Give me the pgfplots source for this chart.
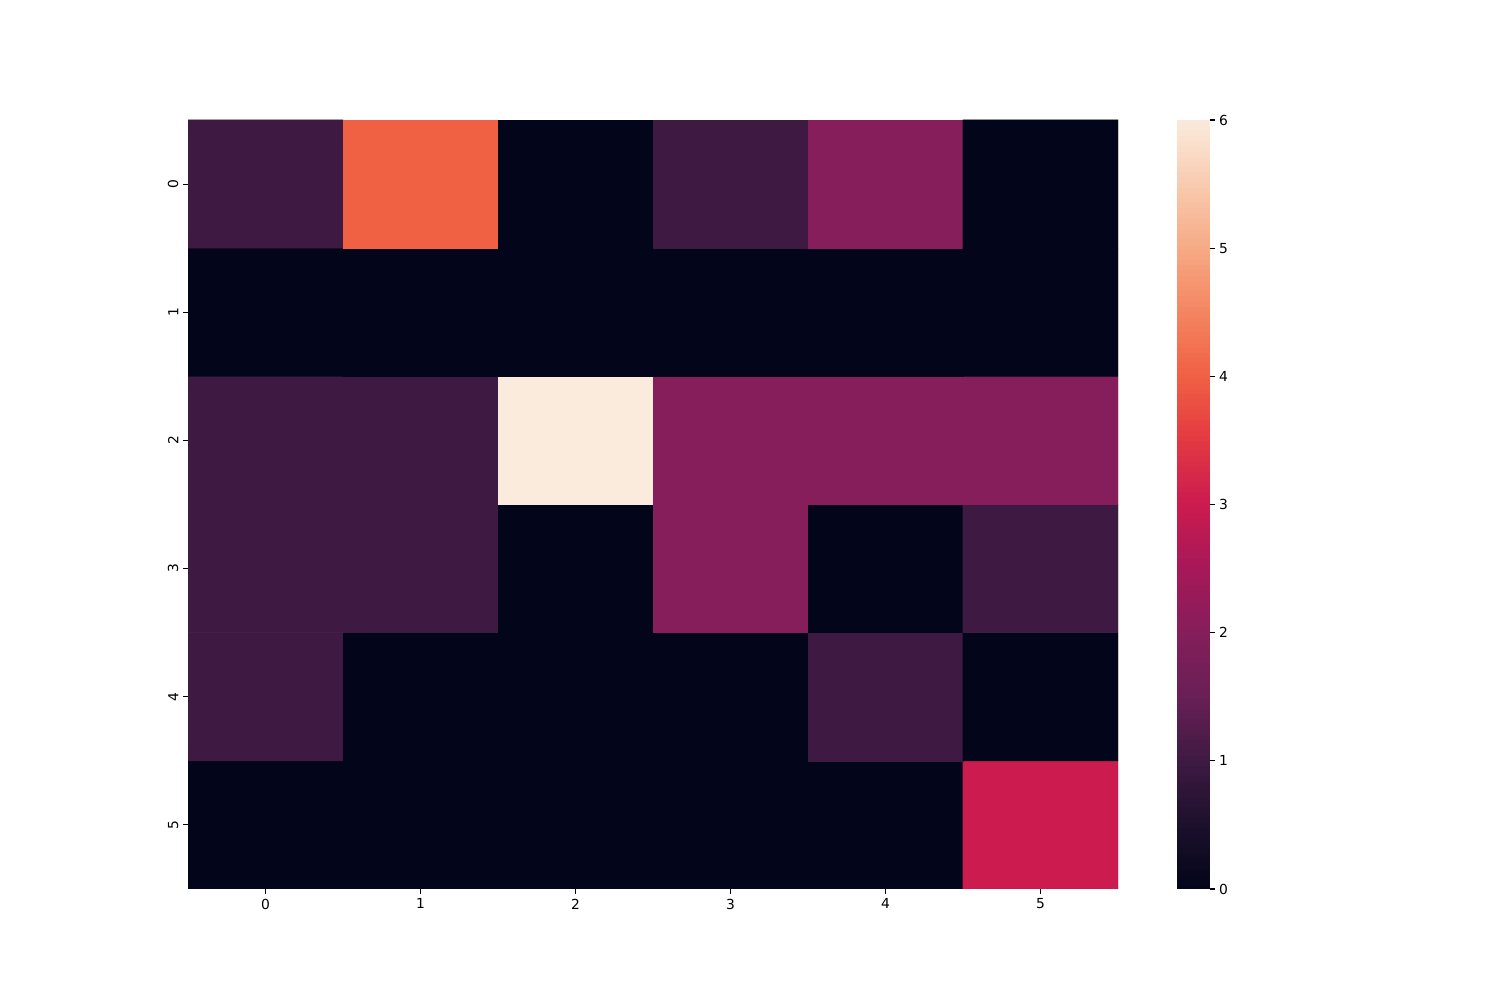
\documentclass[border=0pt]{standalone}
\usepackage{fontspec}
\setmainfont{DejaVu Sans}
\usepackage{pgfplots}
\pgfplotsset{compat=1.18}

\pgfplotsset{
  colormap={rocket}{
    rgb255(0cm)=(3,5,26) rgb255(0.5cm)=(28,16,44) rgb255(1cm)=(62,26,66)
    rgb255(1.5cm)=(105,31,86) rgb255(2cm)=(133,30,90) rgb255(2.5cm)=(167,24,89)
    rgb255(3cm)=(203,27,79) rgb255(3.5cm)=(227,56,66) rgb255(4cm)=(240,96,67)
    rgb255(4.5cm)=(244,133,97) rgb255(5cm)=(246,170,133) rgb255(5.5cm)=(248,203,176)
    rgb255(6cm)=(250,235,221)
  }
}

\begin{document}
\begin{tikzpicture}
\path[use as bounding box] (0,0) rectangle (15in,10in);
\begin{axis}[
    at={(1.88in,1.11in)}, anchor=south west,
    scale only axis,
    width=9.30in, height=7.69in,
    xmin=-0.5, xmax=5.5,
    ymin=-5.5, ymax=0.5,
    axis line style={draw=none},
    xtick={0,...,5},
    ytick={-5,...,0},
    yticklabels={5,4,3,2,1,0},
    xtick pos=bottom, ytick pos=left,
    tick align=outside,
    major tick length=3.5pt,
    tick style={line width=0.8pt, black},
    yticklabel style={rotate=90, anchor=south},
    tick label style={font=\fontsize{10}{12}\selectfont},
    /pgf/number format/assume math mode=true,
    colormap name=rocket,
    point meta min=0, point meta max=6,
    colorbar sampled,
    colorbar style={
        scale only axis,
        samples=150,
        at={(parent axis.north east)}, anchor=north west,
        xshift=0.47in,
        width=0.33in,
        height=7.69in,
        ytick={0,...,6},
        axis line style={draw=none},
        tick align=outside,
        ytick pos=right,
        major tick length=3.5pt,
        tick style={line width=0.8pt, black},
        yticklabel style={font=\fontsize{10}{12}\selectfont, inner sep=3pt},
        /pgf/number format/assume math mode=true,
    },
]
\addplot[matrix plot*, mesh/cols=6, point meta=explicit] table[meta=c] {
x y c
0 -5 0
1 -5 0
2 -5 0
3 -5 0
4 -5 0
5 -5 3
0 -4 1
1 -4 0
2 -4 0
3 -4 0
4 -4 1
5 -4 0
0 -3 1
1 -3 1
2 -3 0
3 -3 2
4 -3 0
5 -3 1
0 -2 1
1 -2 1
2 -2 6
3 -2 2
4 -2 2
5 -2 2
0 -1 0
1 -1 0
2 -1 0
3 -1 0
4 -1 0
5 -1 0
0 0 1
1 0 4
2 0 0
3 0 1
4 0 2
5 0 0
};
\end{axis}
\end{tikzpicture}
\end{document}
